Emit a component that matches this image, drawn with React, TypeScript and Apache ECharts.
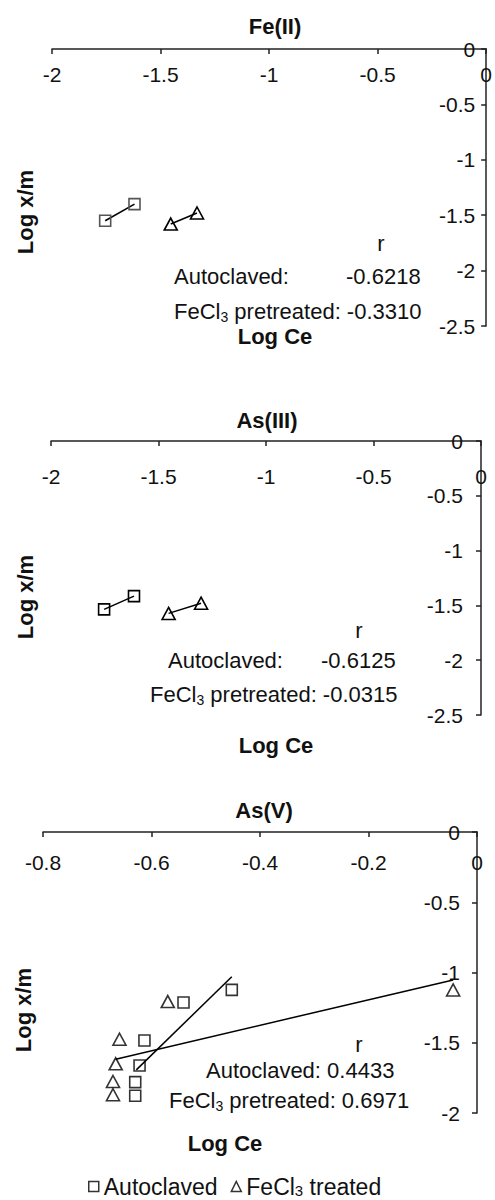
import React, { useEffect, useRef } from "react";
import * as echarts from "echarts";

// ---- data ----
const fe2AutoX = [-1.755, -1.62];
const fe2AutoY = [-1.55, -1.4];
const fe2FeX = [-1.453, -1.332];
const fe2FeY = [-1.58, -1.48];

const as3AutoX = [-1.753, -1.614];
const as3AutoY = [-1.536, -1.415];
const as3FeX = [-1.453, -1.302];
const as3FeY = [-1.573, -1.48];

const as5AutoX = [-0.452, -0.541, -0.613, -0.622, -0.63, -0.63];
const as5AutoY = [-1.124, -1.214, -1.484, -1.662, -1.78, -1.877];
const as5FeX = [-0.044, -0.57, -0.659, -0.666, -0.671, -0.671];
const as5FeY = [-1.124, -1.207, -1.475, -1.65, -1.776, -1.87];

const as5AutoFitX = [-0.628, -0.452];
const as5AutoFitY = [-1.693, -1.03];
const as5FeFitX = [-0.666, -0.044];
const as5FeFitY = [-1.617, -1.053];

const titles = ["Fe(II)", "As(III)", "As(V)"];
const rAuto = ["-0.6218", "-0.6125", "0.4433"];
const rFe = ["-0.3310", "-0.0315", "0.6971"];
const legendNames = ["Autoclaved", "FeCl3 treated"];

const FONT = "'Liberation Sans', Arial, Helvetica, sans-serif";

const zip = (xs: number[], ys: number[]) => xs.map((x, i) => [x, ys[i]]);

function xAxisCfg(grid: number, min: number, interval: number, margin: number) {
  return {
    type: "value",
    gridIndex: grid,
    position: "top",
    min,
    max: 0,
    interval,
    axisLine: { show: true, onZero: false, lineStyle: { color: "#222", width: 1.5 } },
    axisTick: { show: true, inside: true, length: 5, lineStyle: { color: "#222", width: 1.5 } },
    axisLabel: { inside: true, margin, color: "#111", fontSize: 21, fontFamily: FONT, showMinLabel: true, showMaxLabel: true },
    splitLine: { show: false },
  };
}

function yAxisCfg(grid: number, min: number, margin: number) {
  return {
    type: "value",
    gridIndex: grid,
    position: "right",
    min,
    max: 0,
    interval: 0.5,
    axisLine: { show: true, onZero: false, lineStyle: { color: "#222", width: 1.5 } },
    axisTick: { show: true, inside: true, length: 5, lineStyle: { color: "#222", width: 1.5 } },
    axisLabel: { inside: true, margin, color: "#111", fontSize: 21, fontFamily: FONT, showMinLabel: true, showMaxLabel: true },
    splitLine: { show: false },
  };
}

const rich = {
  n: { fontSize: 22, fontFamily: FONT, color: "#111", lineHeight: 26 },
  s: { fontSize: 14, fontFamily: FONT, color: "#111", lineHeight: 16, verticalAlign: "bottom" },
};

const legendRich = {
  n: { fontSize: 23, fontFamily: FONT, color: "#111", lineHeight: 22 },
  s: { fontSize: 15, fontFamily: FONT, color: "#111", lineHeight: 12, verticalAlign: "bottom" },
};

function txt(x: number, y: number, text: string, align = "left", bold = false, rotation = 0) {
  return {
    type: "text",
    x,
    y,
    rotation,
    style: {
      text,
      textAlign: align,
      textVerticalAlign: "middle",
      fontSize: 22,
      fontWeight: bold ? "bold" : "normal",
      fontFamily: FONT,
      fill: "#111",
      rich,
    },
  };
}

export default function App() {
  const ref = useRef<HTMLDivElement>(null);
  useEffect(() => {
    if (!ref.current) return;
    const chart = echarts.init(ref.current, null, { renderer: "svg" });

    const sq = (color: string) => ({
      symbol: "rect",
      symbolSize: 11,
      itemStyle: { color: "transparent", borderColor: color, borderWidth: 1.6 },
    });
    const tri = {
      symbol: "triangle",
      symbolSize: [13, 12],
      itemStyle: { color: "transparent", borderColor: "#000", borderWidth: 1.6 },
    };
    const lineStyle = { color: "#000", width: 1.5 };

    const option = {
      animation: false,
      backgroundColor: "#fff",
      grid: [
        { left: 52, top: 49, width: 440, height: 277 },
        { left: 51, top: 441, width: 430, height: 274 },
        { left: 43, top: 832, width: 434, height: 281 },
      ],
      xAxis: [xAxisCfg(0, -2, 0.5, 15), xAxisCfg(1, -2, 0.5, 25), xAxisCfg(2, -0.8, 0.2, 20)],
      yAxis: [yAxisCfg(0, -2.5, 11), yAxisCfg(1, -2.5, 18), yAxisCfg(2, -2, 17)],
      legend: {
        left: 83,
        top: 1170,
        padding: [5, 5, 5, 5],
        itemWidth: 10,
        itemHeight: 10,
        itemGap: 13,
        data: [
          { name: legendNames[0], icon: "rect" },
          { name: legendNames[1], icon: "triangle" },
        ],
        itemStyle: { color: "transparent", borderColor: "#000", borderWidth: 1.5 },
        formatter: (name: string) => (name === legendNames[1] ? "{n|FeCl}{s|3}{n| treated}" : "{n|" + name + "}"),
        textStyle: { rich: legendRich, fontSize: 23, fontFamily: FONT, color: "#111" },
      },
      series: [
        { type: "scatter", name: legendNames[0], xAxisIndex: 2, yAxisIndex: 2, data: zip(as5AutoX, as5AutoY), ...sq("#000"), z: 3 },
        { type: "scatter", name: legendNames[1], xAxisIndex: 2, yAxisIndex: 2, data: zip(as5FeX, as5FeY), ...tri, z: 3 },
        { type: "line", name: "Autoclaved fit", xAxisIndex: 2, yAxisIndex: 2, data: zip(as5AutoFitX, as5AutoFitY), showSymbol: false, symbol: "none", lineStyle },
        { type: "line", name: "FeCl3 fit", xAxisIndex: 2, yAxisIndex: 2, data: zip(as5FeFitX, as5FeFitY), showSymbol: false, symbol: "none", lineStyle },
        { type: "line", name: legendNames[0], xAxisIndex: 0, yAxisIndex: 0, data: zip(fe2AutoX, fe2AutoY), ...sq("#555"), lineStyle },
        { type: "line", name: legendNames[1], xAxisIndex: 0, yAxisIndex: 0, data: zip(fe2FeX, fe2FeY), ...tri, lineStyle },
        { type: "line", name: legendNames[0], xAxisIndex: 1, yAxisIndex: 1, data: zip(as3AutoX, as3AutoY), ...sq("#000"), lineStyle },
        { type: "line", name: legendNames[1], xAxisIndex: 1, yAxisIndex: 1, data: zip(as3FeX, as3FeY), ...tri, lineStyle },
      ],
      graphic: [
        // chart 1
        txt(275, 26, titles[0], "center", true),
        txt(25, 212, "Log x/m", "center", true, Math.PI / 2),
        txt(275, 336, "Log Ce", "center", true),
        txt(381, 243, "r", "center"),
        txt(174, 276, "Autoclaved:"),
        txt(346, 276, rAuto[0]),
        txt(174, 311, "{n|FeCl}{s|3}{n| pretreated: " + rFe[0] + "}"),
        // chart 2
        txt(267, 420, titles[1], "center", true),
        txt(25, 597, "Log x/m", "center", true, Math.PI / 2),
        txt(276, 745, "Log Ce", "center", true),
        txt(359, 630, "r", "center"),
        txt(168, 660, "Autoclaved:"),
        txt(321, 660, rAuto[1]),
        txt(150, 694, "{n|FeCl}{s|3}{n| pretreated: " + rFe[1] + "}"),
        // chart 3
        txt(264, 810, titles[2], "center", true),
        txt(23, 1010, "Log x/m", "center", true, Math.PI / 2),
        txt(225, 1143, "Log Ce", "center", true),
        txt(359, 1044, "r", "center"),
        txt(206, 1070, "Autoclaved: " + rAuto[2]),
        txt(169, 1100, "{n|FeCl}{s|3}{n| pretreated: " + rFe[2] + "}"),
      ],
    };
    chart.setOption(option as any);
    return () => chart.dispose();
  }, []);
  return <div ref={ref} style={{ position: "absolute", left: 0, top: 0, width: 495, height: 1200 }} />;
}
